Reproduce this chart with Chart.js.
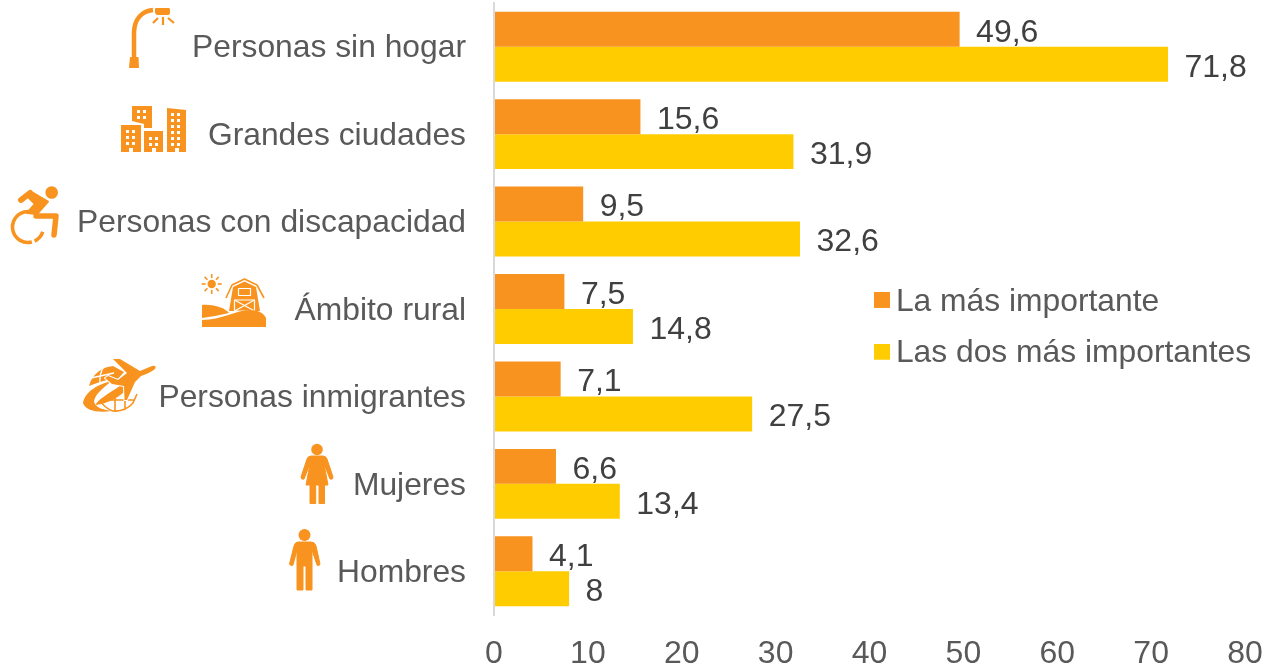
<!DOCTYPE html>
<html lang="es">
<head>
<meta charset="utf-8">
<title>Chart</title>
<style>
html,body{margin:0;padding:0;background:#fff;overflow:hidden}
canvas{display:block}
</style>
<script src="https://cdn.jsdelivr.net/npm/chart.js@4/dist/chart.umd.min.js"></script>
</head>
<body>
<canvas id="c" width="1264" height="668"></canvas>
<script>
const categories = ['Personas sin hogar','Grandes ciudades','Personas con discapacidad','Ámbito rural','Personas inmigrantes','Mujeres','Hombres'];
const seriesNames = ['La más importante','Las dos más importantes'];
const masImportante = [49.6,15.6,9.5,7.5,7.1,6.6,4.1];
const dosMasImportantes = [71.8,31.9,32.6,14.8,27.5,13.4,8];
const xTicks = [0,10,20,30,40,50,60,70,80];

const ORANGE='#F8931F', YELLOW='#FFCC00', FONT='"Liberation Sans", Arial, sans-serif';
const fmt=v=>String(v).replace('.',',');

// legend swatch: transparent margins set the gap to the text and its vertical offset
function swatch(color){
  const s=document.createElement('canvas');s.width=24;s.height=20;
  const g=s.getContext('2d');g.fillStyle=color;g.fillRect(8,0,16,16);return s;
}

const valueLabels={id:'valueLabels',afterDatasetsDraw(chart){
  const g=chart.ctx;g.save();
  g.font='32px '+FONT;g.fillStyle='#404040';g.textAlign='left';g.textBaseline='middle';
  chart.data.datasets.forEach((d,i)=>{
    chart.getDatasetMeta(i).data.forEach((bar,j)=>{
      g.fillText(fmt(d.data[j]),bar.x+16.5,bar.y+3.5);
    });
  });
  g.restore();
}};

const placeLegend={id:'placeLegend',afterLayout(chart){
  const l=chart.legend;const w=l.width,h=l.height;
  l.left=856;l.top=266;l.right=856+w;l.bottom=266+h;
}};

function P(d){return new Path2D(d);}
const icons={id:'icons',afterDraw(chart){
  const g=chart.ctx;g.save();
  g.fillStyle=ORANGE;g.strokeStyle=ORANGE;g.lineCap='butt';g.lineJoin='round';
  const W='#fff';
  // street lamp
  g.lineWidth=4.5;g.stroke(P('M134 58 L134 33 C134 19 142 11 153 10'));
  g.fill(P('M130 57 L138.5 57 L139 68 L129 68 Z'));
  g.fill(P('M155 9 Q155 8 156 8 L169 8 Q170 8 170 10 L170 13 Q170 15 168 15 L158 15 Q155 15 155 12 Z'));
  g.lineWidth=2.2;g.stroke(P('M163 17 L163 25 M158 18 L153 23 M168 18 L174 23'));
  // city
  g.fill(P('M121 125 L141 125 L141 152 L121 152 Z'));
  g.fill(P('M132 106 L152 106 L152 128 L144 128 L144 124 L132 121 Z'));
  g.fill(P('M144 131 L163 131 L163 152 L144 152 Z'));
  g.fill(P('M167 108 L186 110 L186 152 L167 152 Z'));
  g.fillStyle=W;
  const win=(x0,y0,nx,ny,dx,dy)=>{for(let a=0;a<nx;a++)for(let b=0;b<ny;b++)g.fillRect(x0+a*dx,y0+b*dy,3,3);};
  win(126,130,2,3,6,6);win(137,110,2,2,6,6);win(149,137,2,2,6,6);win(171,113,2,6,6,6);
  g.fillRect(129,148,4,4);g.fillRect(152,148,4,4);g.fillRect(175,148,4,4);
  g.fillStyle=ORANGE;
  // wheelchair
  g.beginPath();g.arc(51.7,192.5,6.3,0,Math.PI*2);g.fill();
  g.lineWidth=6;g.lineCap='round';
  g.stroke(P('M21 200 L30 193'));
  const torso=P('M30 191 L48 201.5 L37 214 L27 213 L35 204 L28 197 Z');
  g.fill(torso);g.lineWidth=2;g.stroke(torso);
  g.lineWidth=5.5;g.stroke(P('M36 216 L56 216 L54 235'));
  g.lineCap='butt';g.lineWidth=3.6;
  g.beginPath();g.arc(28,227,15.5,Math.PI*0.42,Math.PI*1.62);g.stroke();
  g.beginPath();g.arc(28,227,15.5,Math.PI*0.1,Math.PI*0.36);g.stroke();
  // barn
  g.beginPath();g.arc(211.7,284,4.2,0,Math.PI*2);g.fill();
  g.lineWidth=1.6;
  for(let k=0;k<8;k++){const a=k*Math.PI/4;g.beginPath();g.moveTo(211.7+Math.cos(a)*6,284+Math.sin(a)*6);g.lineTo(211.7+Math.cos(a)*10,284+Math.sin(a)*10);g.stroke();}
  g.fill(P('M229 311 L233 287 L244.5 281.5 L256 287 L260 311 Z'));
  g.lineWidth=1.6;g.stroke(P('M226 298 L232 285 L244.5 279 L257 285 L264 298'));
  g.strokeStyle=W;g.lineWidth=1.2;
  g.strokeRect(238.5,288.5,12,7);g.strokeRect(234.5,300,20,11);g.stroke(P('M234.5 300 L254.5 311 M254.5 300 L234.5 311'));
  g.strokeStyle=ORANGE;
  g.fill(P('M202 305 C215 304 224 308 229 313 C220 315 210 317 202 318 Z'));
  g.fill(P('M202 320 C222 320 236 310 250 310 C258 310 264 313 266 318 L266 327 L202 327 Z'));
  // globe with plane
  g.fill(P('M89 386 C92 374 102 367 113 366 L124 372 L116 381 L107 380 C100 382 94 384 89 386 Z'));
  g.strokeStyle=W;g.lineWidth=1.4;g.stroke(P('M104 366 Q99 374 100 384 M91 378 L114 373'));
  g.strokeStyle=ORANGE;g.lineWidth=1.6;
  g.stroke(P('M100 400 Q104 408 113 411 Q125 412 133 403 L137 394 M115 392 L115 411 M125 390 L125 409 M102 400 L135 400'));
  g.fill(P('M83 403 C85 391 99 384 112 381 C102 388 94 396 94 402 C96 408 104 410 112 411 C98 413 86 411 83 403 Z'));
  g.fill(P('M128 388 C121 396 108 404 96 405 C96 400 112 392 124 383 Z'));
  const plane=P('M113 359 L120 359 L140 371 L152 366 Q157 365 155 369 Q150 373 141 376 L135 382 L127 400 L124.5 400 L124 386 L112 384 L105 378 L108 376 L118 380 L127 373 Z');
  g.strokeStyle=W;g.lineWidth=2;g.stroke(plane);
  g.fill(plane);
  g.strokeStyle=ORANGE;g.lineWidth=1;
  // woman
  g.beginPath();g.arc(317,449.5,5.8,0,Math.PI*2);g.fill();
  const woman=P('M311 456 L323 456 Q326 456 327 459 L333 477 Q333 480 330 479 L324 464 L328 485 L324.5 485 L324.5 503.5 L319 503.5 L319 485 L315.7 485 L315.7 503.5 L310 503.5 L310 485 L306 485 L310 464 L304 479 Q301 480 301 477 L307 459 Q308 456 311 456 Z');
  g.fill(woman);g.stroke(woman);
  // man
  g.beginPath();g.arc(304.5,535,6,0,Math.PI*2);g.fill();
  const man=P('M298 542 L311 542 Q315 542 316 546 L320 564 Q319 567 317 565 L312 550 L312 590 L306 590 L306 566 L303 566 L303 590 L297 590 L297 550 L293 565 Q291 567 289.5 564 L294 546 Q295 542 298 542 Z');
  g.fill(man);g.stroke(man);
  g.restore();
}};

new Chart(document.getElementById('c'),{
  type:'bar',
  data:{labels:categories,datasets:[
    {label:seriesNames[0],data:masImportante,backgroundColor:ORANGE,barPercentage:1,categoryPercentage:0.8},
    {label:seriesNames[1],data:dosMasImportantes,backgroundColor:YELLOW,barPercentage:1,categoryPercentage:0.8}
  ]},
  plugins:[valueLabels,placeLegend,icons],
  options:{
    indexAxis:'y',responsive:false,animation:false,
    layout:{padding:{top:3,right:19,bottom:0,left:0}},
    plugins:{
      tooltip:{enabled:false},
      legend:{
        position:'chartArea',align:'start',
        labels:{
          usePointStyle:true,boxWidth:4,boxHeight:4,padding:20,color:'#595959',
          font:{family:FONT,size:31.8},
          generateLabels(ch){
            return Chart.defaults.plugins.legend.labels.generateLabels(ch).map((it,i)=>{
              it.pointStyle=swatch(ch.data.datasets[i].backgroundColor);return it;
            });
          }
        },
        onClick:null
      }
    },
    scales:{
      x:{
        min:0,max:80,
        afterFit(s){s.height=53;s.paddingLeft=0;s.paddingRight=0;},
        afterBuildTicks(s){s.ticks=xTicks.map(v=>({value:v}));},
        grid:{display:false,drawTicks:false},border:{display:false},
        ticks:{color:'#595959',font:{family:FONT,size:32},padding:20,maxRotation:0,autoSkip:false}
      },
      y:{
        afterFit(s){s.width=494;s.paddingTop=0;s.paddingBottom=0;},
        grid:{display:false,drawTicks:false},
        border:{display:true,color:'#D9D9D9',width:2,z:1},
        ticks:{color:'#595959',font:{family:FONT,size:31.8},padding:28,labelOffset:2,autoSkip:false,crossAlign:'near'}
      }
    }
  }
});
</script>
</body>
</html>
